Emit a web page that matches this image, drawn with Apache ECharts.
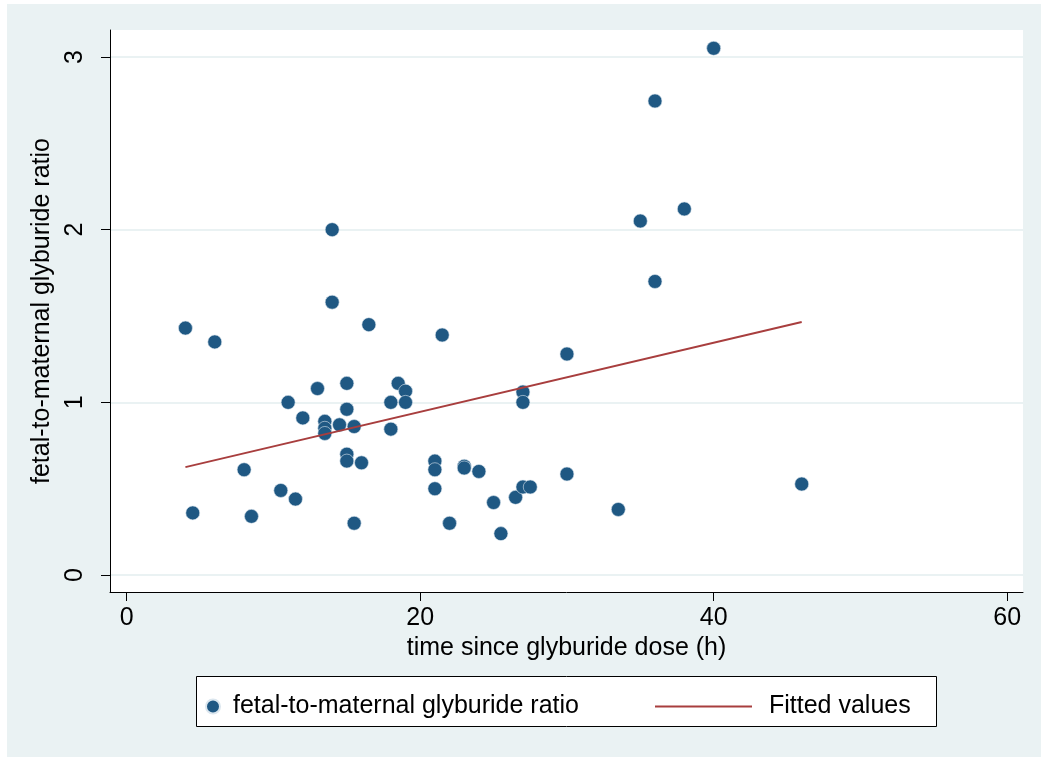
<!DOCTYPE html>
<html>
<head>
<meta charset="utf-8">
<script src="https://cdn.jsdelivr.net/npm/echarts@6/dist/echarts.min.js"></script>
<style>
  html, body { margin: 0; padding: 0; background: #fff; }
  #main { width: 1041px; height: 757px; }
</style>
</head>
<body>
<div id="main"></div>
<script>
// data
var hours = [4, 4.5, 6, 8, 8.5, 10.5, 11, 11.5, 12, 13, 13.5, 13.5, 13.5, 14, 14, 14.5, 15, 15, 15, 15, 15.5, 15.5, 16, 16.5,
    18, 18, 18.5, 19, 19, 21, 21, 21, 21.5, 22, 23, 23, 24, 25, 25.5, 26.5, 27, 27, 27, 27.5, 30, 30, 33.5, 35, 36, 36, 38, 40, 46];
var ratio = [1.43, 0.36, 1.35, 0.61, 0.34, 0.49, 1.0, 0.44, 0.91, 1.08, 0.89, 0.85, 0.82, 2.0, 1.58, 0.87, 1.11, 0.96, 0.70, 0.66, 0.86, 0.30, 0.65, 1.45,
    1.0, 0.845, 1.11, 1.065, 1.0, 0.66, 0.61, 0.50, 1.39, 0.30, 0.63, 0.62, 0.60, 0.42, 0.24, 0.45, 1.06, 1.0, 0.51, 0.51, 1.28, 0.585, 0.38, 2.05, 2.745, 1.70, 2.12, 3.05, 0.527];
var fitX = [4, 46];
var fitY = [0.625, 1.465];
var xTicks = [0, 20, 40, 60];
var yTicks = [0, 1, 2, 3];

var scatterData = hours.map(function (h, i) { return [h, ratio[i]]; });
var fitData = fitX.map(function (x, i) { return [x, fitY[i]]; });

var font = 'Liberation Sans, Arial, sans-serif';
var fs = 25;
var chart = echarts.init(document.getElementById('main'));

var option = {
    backgroundColor: '#fff',
    animation: false,
    textStyle: { fontFamily: font, color: '#000' },
    graphic: [
        { type: 'rect', z: -10, shape: { x: 7, y: 4, width: 1034, height: 753 }, style: { fill: '#eaf2f3' } },
        { type: 'rect', z: -5, shape: { x: 110, y: 30, width: 913, height: 562 }, style: { fill: '#fff' } },
        { type: 'rect', z: -5, shape: { x: 196.5, y: 676.5, width: 740, height: 50 }, style: { fill: '#fff', stroke: '#000', lineWidth: 1 } }
    ],
    legend: [
        {
            data: ['fetal-to-maternal glyburide ratio'],
            left: 200, top: 689,
            icon: 'circle', itemWidth: 14, itemHeight: 14,
            textStyle: { fontSize: fs, fontFamily: font, color: '#000', padding: [0, 0, 0, 8] }
        },
        {
            data: [{ name: 'Fitted values', icon: 'rect' }],
            left: 650, top: 689,
            itemWidth: 97, itemHeight: 2,
            textStyle: { fontSize: fs, fontFamily: font, color: '#000', padding: [0, 0, 0, 12] }
        }
    ],
    grid: { left: 110, top: 30, right: 18, bottom: 165 },
    xAxis: {
        type: 'value',
        min: -1.14, max: 61.08,
        name: 'time since glyburide dose (h)',
        nameLocation: 'middle', nameGap: 43,
        nameTextStyle: { fontSize: fs, fontFamily: font, color: '#000' },
        axisLine: { onZero: false, lineStyle: { color: '#000', width: 1 } },
        axisTick: { length: 9, customValues: xTicks, lineStyle: { color: '#000' } },
        axisLabel: { customValues: xTicks, fontSize: fs, margin: 14, color: '#000', fontFamily: font },
        splitLine: { show: false }
    },
    yAxis: {
        type: 'value',
        min: -0.098, max: 3.156,
        name: 'fetal-to-maternal glyburide ratio',
        nameLocation: 'middle', nameGap: 49, nameRotate: 90,
        nameTextStyle: { fontSize: fs, fontFamily: font, color: '#000' },
        axisLine: { show: true, onZero: false, lineStyle: { color: '#000', width: 1 } },
        axisTick: { show: true, length: 9, customValues: yTicks, lineStyle: { color: '#000' } },
        axisLabel: { customValues: yTicks, rotate: 90, fontSize: fs, margin: 22, color: '#000', fontFamily: font },
        splitLine: { show: true, lineStyle: { color: '#eaf2f3', width: 2 } }
    },
    series: [
        {
            name: 'fetal-to-maternal glyburide ratio',
            type: 'scatter',
            data: scatterData,
            symbol: 'circle',
            symbolSize: 14,
            itemStyle: { color: '#1f5883', borderColor: '#dbe6ee', borderWidth: 0.6, opacity: 1 }
        },
        {
            name: 'Fitted values',
            type: 'line',
            data: fitData,
            showSymbol: false,
            symbol: 'none',
            lineStyle: { color: '#a83e3e', width: 2 },
            itemStyle: { color: '#a83e3e' }
        }
    ]
};

chart.setOption(option);
</script>
</body>
</html>
